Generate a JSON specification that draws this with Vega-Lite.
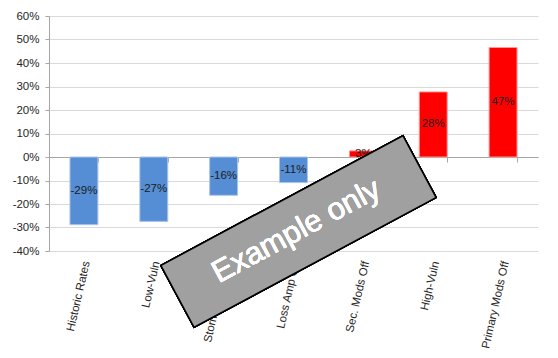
{
  "$schema": "https://vega.github.io/schema/vega-lite/v6.json",
  "width": 489,
  "height": 235,
  "autosize": {"type": "none"},
  "padding": {"left": 49, "top": 16, "right": 20, "bottom": 107},
  "background": "white",
  "config": {
    "view": {"stroke": null},
    "font": "Liberation Sans",
    "locale": {"number": {"decimal": ".", "thousands": ",", "grouping": [3], "currency": ["$", ""], "minus": "-"}}
  },
  "data": {
    "values": [
      {"cat": "Historic Rates", "v": -0.288},
      {"cat": "Low-Vuln", "v": -0.274},
      {"cat": "Storm Surge Off", "v": -0.163},
      {"cat": "Loss Amp Off", "v": -0.109},
      {"cat": "Sec. Mods Off", "v": 0.026},
      {"cat": "High-Vuln", "v": 0.277},
      {"cat": "Primary Mods Off", "v": 0.466}
    ]
  },
  "layer": [
    {
      "mark": {"type": "bar", "strokeWidth": 1},
      "encoding": {
        "x": {
          "field": "cat", "type": "nominal", "sort": null,
          "scale": {"domain": ["Historic Rates", "Low-Vuln", "Storm Surge Off", "Loss Amp Off", "Sec. Mods Off", "High-Vuln", "Primary Mods Off"], "paddingInner": 0.6, "paddingOuter": 0.3},
          "axis": {"title": null, "orient": "bottom", "labelAngle": -77, "domain": false, "ticks": false, "labelPadding": 10, "labelFontSize": 11.5, "labelColor": "#262626", "labelOffset": 3}
        },
        "y": {
          "field": "v", "type": "quantitative",
          "scale": {"domain": [-0.4, 0.6], "nice": false, "zero": false},
          "axis": {"title": null, "format": ".0%", "values": [-0.4, -0.3, -0.2, -0.1, 0, 0.1, 0.2, 0.3, 0.4, 0.5, 0.6], "tickSize": 4, "labelPadding": 6, "domainColor": "#A6A6A6", "tickColor": "#A6A6A6", "gridColor": "#D9D9D9", "labelFontSize": 11.5, "labelColor": "#262626"}
        },
        "color": {"condition": {"test": "datum.v < 0", "value": "#558ED5"}, "value": "#FF0000"},
        "stroke": {"condition": {"test": "datum.v < 0", "value": "#A9C4EB"}, "value": "#FF9999"}
      }
    },
    {
      "mark": {"type": "text", "fontSize": 11.5, "color": "#202020"},
      "encoding": {
        "x": {
          "field": "cat", "type": "nominal", "sort": null,
          "axis": {"title": null, "orient": "bottom", "offset": -94, "labels": false, "domain": true, "domainColor": "#A6A6A6", "ticks": true, "tickBand": "extent", "tickSize": 5, "tickColor": "#A6A6A6", "grid": false}
        },
        "y": {"field": "v", "type": "quantitative", "scale": {"domain": [-0.8, 1.2], "nice": false, "zero": false}, "axis": null},
        "text": {"field": "v", "type": "quantitative", "format": ".0%"}
      }
    },
    {
      "layer": [
        {
          "mark": {"type": "point", "shape": "M-1,-0.2555L1,-0.2555L1,0.2555L-1,0.2555Z", "size": 75460, "angle": -28.2, "filled": true, "fill": "#A0A0A0", "stroke": "#000000", "strokeWidth": 1.5, "opacity": 1, "fillOpacity": 1, "xOffset": 5},
          "encoding": {
            "x": {"datum": "Loss Amp Off", "type": "nominal", "axis": null},
            "y": {"datum": -0.317, "type": "quantitative", "scale": {"domain": [-0.4, 0.6], "nice": false, "zero": false}, "axis": null}
          }
        },
        {
          "mark": {"type": "text", "text": "Example only", "angle": -28.2, "fontSize": 31, "color": "#FFFFFF", "xOffset": 3},
          "encoding": {
            "x": {"datum": "Loss Amp Off", "type": "nominal", "axis": null},
            "y": {"datum": -0.317, "type": "quantitative", "scale": {"domain": [-0.4, 0.6], "nice": false, "zero": false}, "axis": null}
          }
        }
      ]
    }
  ],
  "resolve": {"scale": {"y": "independent"}, "axis": {"x": "independent", "y": "independent"}}
}
